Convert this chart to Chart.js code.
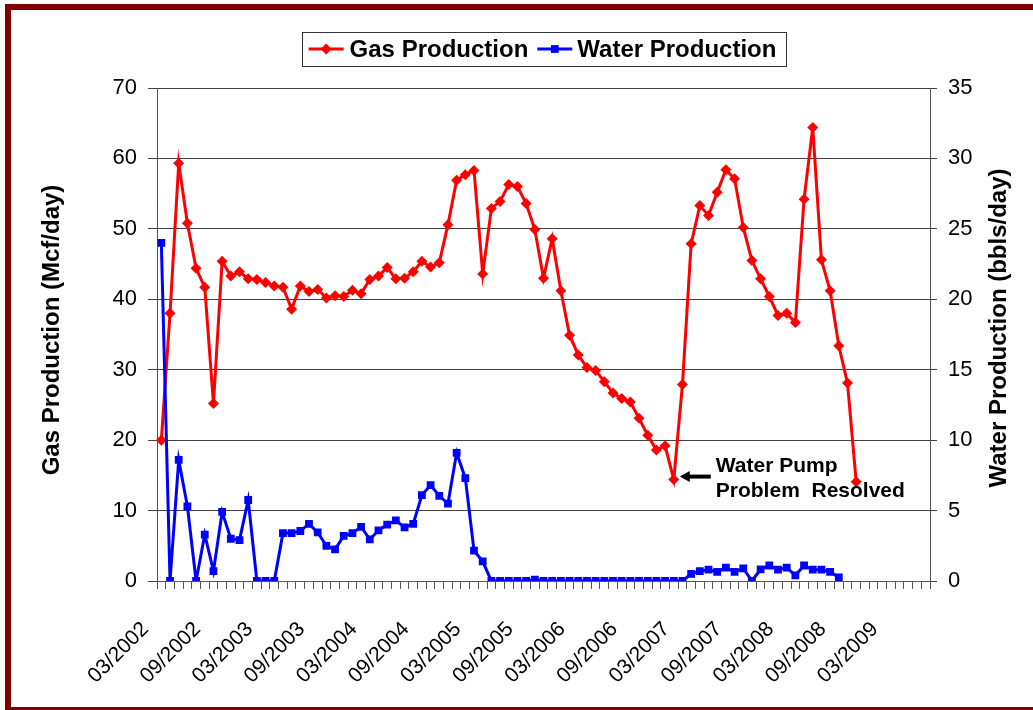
<!DOCTYPE html>
<html lang="en">
<head>
    <meta charset="UTF-8">
    <title>Gas and Water Production</title>
    <script src="https://cdn.jsdelivr.net/npm/chart.js"></script>
    <style>
        body {
            margin: 0;
            background: #fff;
        }

        .wrap {
            position: relative;
            width: 1033px;
            height: 710px;
            overflow: hidden;
        }

        .wrap canvas {
            position: absolute;
            left: 0;
            top: 0;
        }

        /* dark red frame round the picture (right and bottom run off the edge) */
        .frame {
            position: absolute;
            left: 5px;
            top: 4px;
            width: 1045px;
            height: 709px;
            border: 6px solid #800000;
            box-sizing: border-box;
            pointer-events: none;
        }
    </style>
</head>
<body>
    <div class="wrap">
        <canvas id="prodChart" width="1033" height="710"></canvas>
        <div class="frame"></div>
    </div>

    <script>
        // monthly categories, 03/2002 .. 07/2009
        const firstYear = 2002, firstMonth = 3, monthCount = 89;
        const months = [];
        for (let i = 0; i < monthCount; i++) {
            const m = (firstMonth - 1 + i) % 12 + 1;
            const y = firstYear + Math.floor((firstMonth - 1 + i) / 12);
            months.push(String(m).padStart(2, '0') + '/' + y);
        }

        // labels that are shown on the x axis
        const tickLabels = ['03/2002', '09/2002', '03/2003', '09/2003', '03/2004', '09/2004', '03/2005',
            '09/2005', '03/2006', '09/2006', '03/2007', '09/2007', '03/2008', '09/2008', '03/2009'];

        // Mcf/day, from 03/2002
        const gasProduction = [
            20.0, 38.0, 59.3, 50.8, 44.4, 41.7, 25.2, 45.4, 43.3, 43.9,
            42.9, 42.8, 42.4, 41.9, 41.7, 38.6, 41.9, 41.1, 41.4, 40.2,
            40.5, 40.4, 41.3, 40.8, 42.8, 43.3, 44.5, 42.9, 43.0, 43.9,
            45.4, 44.6, 45.2, 50.6, 56.9, 57.7, 58.3, 43.6, 52.9, 53.9,
            56.3, 56.0, 53.6, 49.9, 43.0, 48.6, 41.2, 34.9, 32.1, 30.3,
            29.9, 28.3, 26.7, 25.9, 25.4, 23.1, 20.7, 18.6, 19.2, 14.4,
            27.9, 47.9, 53.3, 51.9, 55.2, 58.4, 57.1, 50.2, 45.5, 42.9,
            40.4, 37.7, 38.0, 36.7, 54.2, 64.4, 45.6, 41.2, 33.4, 28.1,
            14.1
        ];

        // bbls/day, from 03/2002
        const waterProduction = [
            24.0, 0, 8.6, 5.3, 0, 3.3, 0.7, 4.9, 3.0, 2.9,
            5.75, 0, 0, 0, 3.4, 3.4, 3.55, 4.05, 3.45, 2.5,
            2.25, 3.2, 3.4, 3.85, 2.95, 3.6, 4.0, 4.3, 3.8, 4.05,
            6.1, 6.8, 6.05, 5.5, 9.1, 7.3, 2.15, 1.4, 0, 0,
            0, 0, 0, 0.1, 0, 0, 0, 0, 0, 0,
            0, 0, 0, 0, 0, 0, 0, 0, 0, 0,
            0, 0.5, 0.7, 0.8, 0.65, 0.95, 0.65, 0.9, 0, 0.83,
            1.1, 0.8, 0.95, 0.4, 1.1, 0.8, 0.8, 0.65, 0.25
        ];

        // month the note points at (03/2007)
        const pumpFixIndex = 59;

        const fontFamily = "'Liberation Sans', Arial, sans-serif";
        const gasColor = '#ff0000';
        const waterColor = '#0000ff';

        function marker(ctx, style, x, y, r) {
            ctx.beginPath();
            if (style === 'rectRot') {
                ctx.moveTo(x, y - r);
                ctx.lineTo(x + r, y);
                ctx.lineTo(x, y + r);
                ctx.lineTo(x - r, y);
            } else {
                const s = r * Math.SQRT1_2;
                ctx.rect(x - s, y - s, 2 * s, 2 * s);
            }
            ctx.closePath();
            ctx.fill();
        }

        // legend box, axis titles and the pump note
        const extras = {
            id: 'extras',
            afterDraw(chart) {
                const { ctx, chartArea, scales } = chart;
                ctx.save();
                ctx.fillStyle = '#000';
                ctx.textBaseline = 'middle';

                // axis titles, both read bottom to top
                ctx.font = 'bold 24px ' + fontFamily;
                ctx.textAlign = 'center';
                ctx.save();
                ctx.translate(52, 330);
                ctx.rotate(-Math.PI / 2);
                ctx.fillText('Gas Production (Mcf/day)', 0, 0);
                ctx.restore();
                ctx.save();
                ctx.translate(999, 328);
                ctx.rotate(-Math.PI / 2);
                ctx.fillText('Water Production (bbls/day)', 0, 0);
                ctx.restore();

                // legend
                ctx.font = 'bold 24px ' + fontFamily;
                ctx.textAlign = 'left';
                const items = [
                    { text: chart.data.datasets[0].label, color: gasColor, style: 'rectRot', r: 5.5 },
                    { text: chart.data.datasets[1].label, color: waterColor, style: 'rect', r: 5.5 }
                ];
                const lineLen = 35;
                items.forEach(it => { it.w = ctx.measureText(it.text).width; });
                const total = 7 + lineLen + 6 + items[0].w + 9 + lineLen + 5 + items[1].w + 9;
                let x = (chartArea.left + chartArea.right) / 2 - total / 2;
                const boxTop = 32, boxH = 34, cy = boxTop + boxH / 2;
                ctx.strokeStyle = '#333';
                ctx.lineWidth = 1;
                ctx.strokeRect(Math.round(x) + 0.5, boxTop + 0.5, Math.round(total), boxH);
                x += 7;
                items.forEach((it, i) => {
                    ctx.strokeStyle = it.color;
                    ctx.fillStyle = it.color;
                    ctx.lineWidth = 3;
                    ctx.beginPath();
                    ctx.moveTo(x, cy);
                    ctx.lineTo(x + lineLen, cy);
                    ctx.stroke();
                    marker(ctx, it.style, x + lineLen / 2, cy, it.r);
                    x += lineLen + (i === 0 ? 6 : 5);
                    ctx.fillStyle = '#000';
                    ctx.fillText(it.text, x, cy + 1);
                    x += it.w + 9;
                });

                // arrow and note at the pump fix
                const px = scales.x.getPixelForValue(pumpFixIndex);
                const py = scales.yGas.getPixelForValue(gasProduction[pumpFixIndex]);
                const tipX = px + 6, tipY = py - 3;
                ctx.fillStyle = '#000';
                ctx.beginPath();
                ctx.moveTo(tipX, tipY);
                ctx.lineTo(tipX + 10, tipY - 5.5);
                ctx.lineTo(tipX + 10, tipY + 5.5);
                ctx.closePath();
                ctx.fill();
                ctx.fillRect(tipX + 9, tipY - 2, 22, 4);

                ctx.font = 'bold 21px ' + fontFamily;
                ctx.textBaseline = 'alphabetic';
                ctx.fillText('Water Pump', tipX + 36, py - 8);
                ctx.fillText('Problem  Resolved', tipX + 36, py + 17);
                ctx.restore();
            }
        };

        const ctx = document.getElementById('prodChart').getContext('2d');
        const prodChart = new Chart(ctx, {
            type: 'line',
            data: {
                labels: months,
                datasets: [
                    {
                        label: 'Gas Production',
                        data: gasProduction,
                        yAxisID: 'yGas',
                        borderColor: gasColor,
                        backgroundColor: gasColor,
                        borderWidth: 3,
                        pointStyle: 'rectRot',
                        pointRadius: 5.5,
                        pointBorderWidth: 0,
                        tension: 0,
                        order: 2
                    },
                    {
                        label: 'Water Production',
                        data: waterProduction,
                        yAxisID: 'yWater',
                        borderColor: waterColor,
                        backgroundColor: waterColor,
                        borderWidth: 3,
                        pointStyle: 'rect',
                        pointRadius: 5.5,
                        pointBorderWidth: 0,
                        tension: 0,
                        order: 1
                    }
                ]
            },
            options: {
                responsive: false,
                animation: false,
                layout: { padding: { top: 88 } },
                plugins: {
                    legend: { display: false },
                    tooltip: { enabled: false }
                },
                scales: {
                    x: {
                        type: 'category',
                        offset: true,
                        grid: {
                            offset: true,
                            drawOnChartArea: false,
                            tickLength: 8,
                            color: '#555'
                        },
                        border: { color: '#555' },
                        ticks: {
                            autoSkip: false,
                            minRotation: 45,
                            maxRotation: 45,
                            padding: 28,
                            labelOffset: -16,
                            color: '#000',
                            font: { family: fontFamily, size: 21 },
                            callback: function (value) {
                                const lab = this.getLabelForValue(value);
                                return tickLabels.includes(lab) ? lab : '';
                            }
                        },
                        afterFit: s => { s.height = 129; }
                    },
                    yGas: {
                        position: 'left',
                        min: 0,
                        max: 70,
                        grid: { color: '#404040', tickLength: 9 },
                        border: { color: '#555' },
                        ticks: {
                            stepSize: 10,
                            padding: 11,
                            color: '#000',
                            font: { family: fontFamily, size: 22 }
                        },
                        afterFit: s => { s.width = 157; }
                    },
                    yWater: {
                        position: 'right',
                        min: 0,
                        max: 35,
                        grid: { drawOnChartArea: false, color: '#404040', tickLength: 7 },
                        border: { color: '#555' },
                        ticks: {
                            stepSize: 5,
                            padding: 11,
                            color: '#000',
                            font: { family: fontFamily, size: 22 }
                        },
                        afterFit: s => { s.width = 103; }
                    }
                }
            },
            plugins: [extras]
        });
    </script>
</body>
</html>
